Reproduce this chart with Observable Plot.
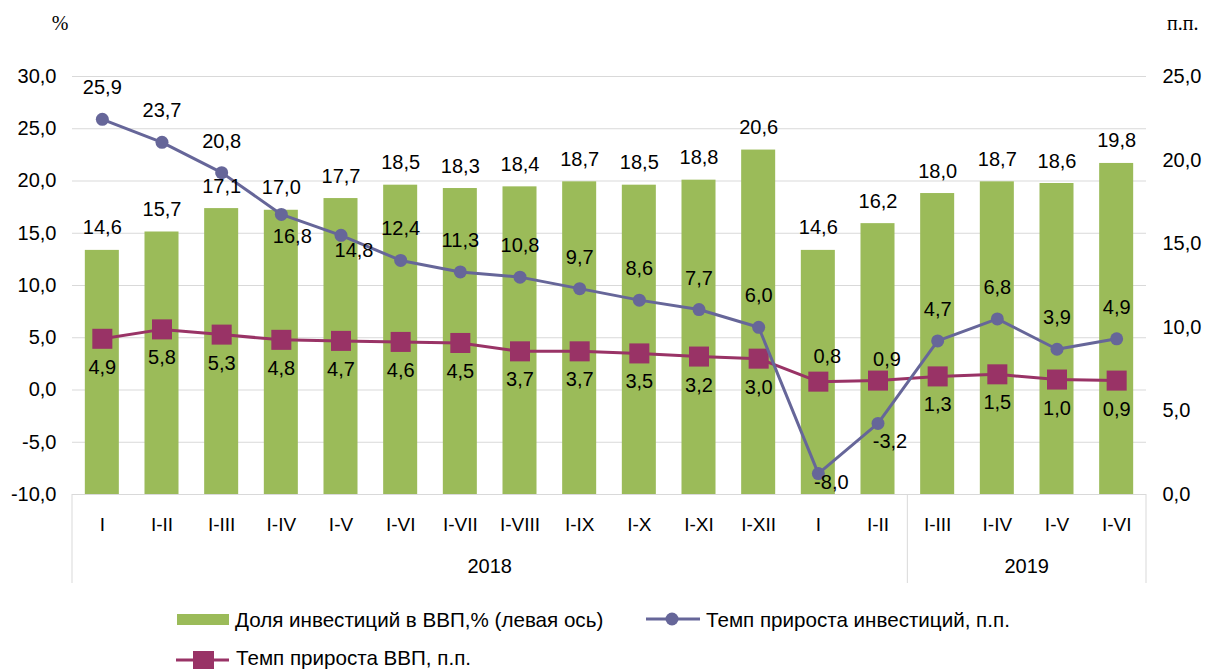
<!DOCTYPE html>
<html>
<head>
<meta charset="utf-8">
<script src="https://cdn.jsdelivr.net/npm/d3@7"></script>
<script src="https://cdn.jsdelivr.net/npm/@observablehq/plot@0.6"></script>
<style>
  body { margin: 0; background: #fff; }
  #chart svg { display: block; }
</style>
</head>
<body>
<div id="chart"></div>
<script>
// ---------- data ----------
const categories = ["I","I-II","I-III","I-IV","I-V","I-VI","I-VII","I-VIII","I-IX","I-X","I-XI","I-XII","I","I-II","I-III","I-IV","I-V","I-VI"];
const years = ["2018", "2019"];
const yearSpans = [14, 4];
const investShare = [14.6,15.7,17.1,17.0,17.7,18.5,18.3,18.4,18.7,18.5,18.8,20.6,14.6,16.2,18.0,18.7,18.6,19.8];
const investGrowth = [25.9,23.7,20.8,16.8,14.8,12.4,11.3,10.8,9.7,8.6,7.7,6.0,-8.0,-3.2,4.7,6.8,3.9,4.9];
const gdpGrowth = [4.9,5.8,5.3,4.8,4.7,4.6,4.5,3.7,3.7,3.5,3.2,3.0,0.8,0.9,1.3,1.5,1.0,0.9];
const leftTicks = [-10,-5,0,5,10,15,20,25,30];
const rightTicks = [0,5,10,15,20,25];
const seriesNames = ["Доля инвестиций в ВВП,% (левая ось)", "Темп прироста инвестиций, п.п.", "Темп прироста ВВП, п.п."];
const leftUnit = "%";
const rightUnit = "п.п.";

// ---------- helpers ----------
const fmt = v => (Math.round(v * 10) / 10).toFixed(1).replace(".", ",");
const L0 = leftTicks[0], L1 = leftTicks[leftTicks.length - 1];
const R0 = rightTicks[0], R1 = rightTicks[rightTicks.length - 1];
const toLeft = v => L0 + (v - R0) * (L1 - L0) / (R1 - R0);
const toRight = v => R0 + (v - L0) * (R1 - R0) / (L1 - L0);

const rows = categories.map((c, i) => ({
  key: String(i), cat: c, share: investShare[i], inv: investGrowth[i], gdp: gdpGrowth[i]
}));

// label placement (layout only)
const invOffsets = rows.map((d, i) => ({3: [11, 29], 4: [13, 22], 12: [13, 15], 13: [12, 25]})[i] || [0, -25]);
const gdpOffsets = rows.map((d, i) => ({12: [9, -19], 13: [9, -15]})[i] || [0, 35]);

function groupedText(offsets, yAcc, textAcc) {
  const groups = d3.group(rows.map((d, i) => ({d, o: offsets[i]})), e => e.o.join(","));
  return [...groups.values()].map(arr => Plot.text(arr.map(e => e.d), {
    x: "key", y: yAcc, text: textAcc,
    dx: arr[0].o[0], dy: arr[0].o[1],
    lineAnchor: "bottom", fontSize: 20, fill: "#000"
  }));
}

const green = "#9BBB59", blue = "#666699", red = "#993366", grid = "#D9D9D9";

const chart = Plot.plot({
  width: 1205,
  height: 600,
  marginLeft: 72,
  marginRight: 59,
  marginTop: 76,
  marginBottom: 106,
  style: {fontFamily: "'Liberation Sans', Arial, sans-serif", fontSize: "20px", color: "#000", background: "#fff", overflow: "visible"},
  x: {type: "band", domain: rows.map(d => d.key), paddingInner: 0.43, paddingOuter: 0.215, round: false, label: null},
  y: {domain: [L0, L1], label: null},
  marks: [
    Plot.gridY(leftTicks.slice(1), {stroke: grid, strokeOpacity: 1, strokeWidth: 1}),
    Plot.ruleY([L0], {stroke: grid, strokeWidth: 1}),
    Plot.barY(rows, {x: "key", y1: L0, y2: d => toLeft(d.share), fill: green}),
    Plot.line(rows, {x: "key", y: "gdp", stroke: red, strokeWidth: 3}),
    Plot.dot(rows, {x: "key", y: "gdp", symbol: "square", r: 11.3, fill: red}),
    Plot.line(rows, {x: "key", y: "inv", stroke: blue, strokeWidth: 3}),
    Plot.dot(rows, {x: "key", y: "inv", r: 6.5, fill: blue}),
    Plot.text(rows, {x: "key", y: d => toLeft(d.share), text: d => fmt(d.share), dy: -16, lineAnchor: "bottom", fontSize: 20, fill: "#000"}),
    ...groupedText(invOffsets, "inv", d => fmt(d.inv)),
    ...groupedText(gdpOffsets, "gdp", d => fmt(d.gdp)),
    Plot.axisX({tickSize: 0, tickPadding: 23, tickFormat: k => categories[+k], fontSize: 19, fill: "#000"}),
    Plot.axisY({anchor: "left", ticks: leftTicks, tickSize: 0, tickPadding: 16, tickFormat: fmt, fontSize: 20, label: null, fill: "#000"}),
    Plot.axisY({anchor: "right", ticks: rightTicks.map(toLeft), tickSize: 0, tickPadding: 16, tickFormat: d => fmt(toRight(d)), fontSize: 20, label: null, fill: "#000", textAnchor: "start"})
  ]
});

document.getElementById("chart").appendChild(chart);

// ---------- group axis (years) and unit labels ----------
const svg = d3.select(chart);
const xs = chart.scale("x");
const ys = chart.scale("y");
const n = rows.length;
const step = xs.step, bw = xs.bandwidth;
const gap = (step - bw) / 2;
const boundary = i => i < n ? xs.apply(String(i)) - gap : xs.apply(String(n - 1)) + bw + gap;
const yBase = ys.apply(L0);
const bounds = [0];
yearSpans.forEach(s => bounds.push(bounds[bounds.length - 1] + s));
const g = svg.append("g");
bounds.forEach(b => {
  g.append("line").attr("x1", boundary(b)).attr("x2", boundary(b))
    .attr("y1", yBase).attr("y2", yBase + 89)
    .attr("stroke", grid).attr("stroke-width", 1);
});
years.forEach((yr, i) => {
  g.append("text").attr("x", (boundary(bounds[i]) + boundary(bounds[i + 1])) / 2)
    .attr("y", yBase + 79).attr("text-anchor", "middle")
    .attr("font-size", 20).attr("fill", "#000").text(yr);
});
g.append("text").attr("x", 60).attr("y", 30).attr("text-anchor", "middle")
  .attr("font-family", "'Liberation Serif', 'Times New Roman', serif").attr("font-size", 20).attr("fill", "#000").text(leftUnit);
g.append("text").attr("x", 1167).attr("y", 30).attr("text-anchor", "start")
  .attr("font-family", "'Liberation Serif', 'Times New Roman', serif").attr("font-size", 20).attr("fill", "#000").text(rightUnit);

// ---------- legend ----------
const leg = d3.select("#chart").append("svg")
  .attr("width", 1205).attr("height", 69)
  .style("display", "block")
  .attr("font-family", "'Liberation Sans', Arial, sans-serif")
  .attr("font-size", 20.6);
// item 1: bars
leg.append("rect").attr("x", 177).attr("y", 14).attr("width", 52).attr("height", 11).attr("fill", green);
leg.append("text").attr("x", 235).attr("y", 26.5).attr("fill", "#000").text(seriesNames[0]);
// item 2: investment growth
leg.append("line").attr("x1", 646).attr("x2", 700).attr("y1", 19).attr("y2", 19).attr("stroke", blue).attr("stroke-width", 3);
leg.append("circle").attr("cx", 672).attr("cy", 19).attr("r", 6.5).attr("fill", blue);
leg.append("text").attr("x", 706).attr("y", 26.5).attr("fill", "#000").text(seriesNames[1]);
// item 3: GDP growth
leg.append("line").attr("x1", 176).attr("x2", 229).attr("y1", 60).attr("y2", 60).attr("stroke", red).attr("stroke-width", 3);
leg.append("rect").attr("x", 193).attr("y", 51).attr("width", 21).attr("height", 21).attr("fill", red);
leg.append("text").attr("x", 236).attr("y", 64.5).attr("fill", "#000").text(seriesNames[2]);
</script>
</body>
</html>
